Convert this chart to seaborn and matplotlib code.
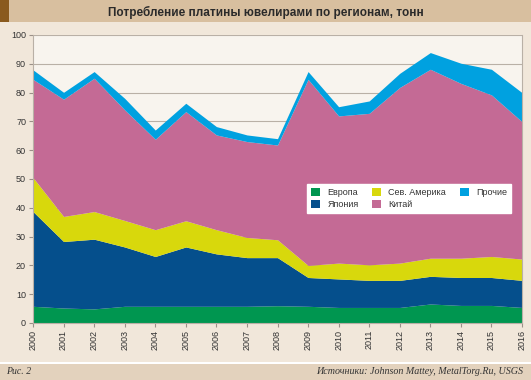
import matplotlib.pyplot as plt
import seaborn as sns
from matplotlib.patches import Rectangle

years = list(range(2000, 2017))

# tonnes per region (layer thickness)
europe = [5.8, 5.2, 4.9, 5.8, 5.8, 5.8, 5.8, 5.8, 6.0, 5.8, 5.4, 5.4, 5.4, 6.6, 6.1, 6.1, 5.4]
japan = [32.9, 23.1, 24.2, 20.6, 17.3, 20.6, 18.2, 16.9, 16.7, 10.0, 9.9, 9.4, 9.4, 9.6, 9.7, 9.7, 9.4]
n_america = [11.8, 8.7, 9.6, 9.2, 9.3, 9.1, 8.4, 7.0, 6.2, 4.2, 5.5, 5.4, 6.0, 6.3, 6.7, 7.3, 7.4]
china = [34.1, 40.7, 46.3, 38.4, 31.4, 37.9, 32.9, 33.3, 32.9, 64.6, 51.1, 52.6, 61.0, 65.6, 60.7, 56.1, 47.7]
others = [3.3, 2.4, 2.3, 4.0, 3.2, 2.9, 2.9, 2.3, 2.2, 2.7, 3.2, 4.3, 4.9, 5.8, 7.0, 8.9, 10.1]

labels = ['Европа', 'Япония', 'Сев. Америка', 'Китай', 'Прочие']
colors = ['#009650', '#054f8c', '#d8d80c', '#c46a95', '#00a1e0']

sns.set_theme(style='white')
plt.rcParams['font.family'] = ['Liberation Sans', 'DejaVu Sans']

fig = plt.figure(figsize=(5.31, 3.80), dpi=100, facecolor='#f1e7da')
ax = fig.add_axes([33 / 531, 57 / 380, 489 / 531, 288 / 380])
ax.set_facecolor('#f8f4ee')

ax.stackplot(years, europe, japan, n_america, china, others,
             labels=labels, colors=colors, linewidth=0)

ax.set_xlim(2000, 2016)
ax.set_ylim(0, 100)
ax.set_yticks(range(0, 101, 10))
ax.set_xticks(years)
ax.set_xticklabels([str(y) for y in years], rotation=90)
ax.yaxis.grid(True, color='#b9b0a6', linewidth=0.8)
ax.set_axisbelow(True)
ax.tick_params(axis='both', labelsize=6.5, colors='#9a9088', labelcolor='#333333',
               length=3, width=0.8, direction='out', pad=2)
ax.tick_params(left=True, bottom=True)
ax.spines['top'].set_visible(False)
for side in ['left', 'right', 'bottom']:
    ax.spines[side].set_color('#b9b0a6')
    ax.spines[side].set_linewidth(0.8)

leg = ax.legend(ncol=3, loc='center', bbox_to_anchor=(0.769, 0.432), fontsize=6.5,
                frameon=True, fancybox=False, handlelength=1.0, handleheight=1.0,
                columnspacing=1.5, handletextpad=0.8, labelspacing=0.25,
                borderpad=0.5)
leg.get_frame().set_facecolor('white')
leg.get_frame().set_edgecolor('white')
leg.get_frame().set_alpha(1)
for t in leg.get_texts():
    t.set_color('#333333')

# title band
fig.patches.append(Rectangle((0, 1 - 22 / 380), 1, 22 / 380, transform=fig.transFigure,
                             facecolor='#d8bf9f', edgecolor='none', zorder=0))
fig.patches.append(Rectangle((0, 1 - 22 / 380), 9 / 531, 22 / 380, transform=fig.transFigure,
                             facecolor='#8a5a1e', edgecolor='none', zorder=1))
fig.text(0.5, 1 - 12 / 380, 'Потребление платины ювелирами по регионам, тонн',
         ha='center', va='center', fontsize=8.5, fontweight='bold', color='#2a2a2a')

# footer band with thin white separator
fig.patches.append(Rectangle((0, 16 / 380), 1, 2 / 380, transform=fig.transFigure,
                             facecolor='white', edgecolor='none', zorder=0))
fig.patches.append(Rectangle((0, 0), 1, 16 / 380, transform=fig.transFigure,
                             facecolor='#e3d2bd', edgecolor='none', zorder=0))
serif = ['Liberation Serif', 'DejaVu Serif']
fig.text(6 / 531, 8 / 380, 'Рис. 2', ha='left', va='center', fontsize=7,
         style='italic', family=serif, color='#333333')
fig.text(1 - 8 / 531, 8 / 380, 'Источники: Johnson Mattey, MetalTorg.Ru, USGS',
         ha='right', va='center', fontsize=7.2, style='italic',
         family=serif, color='#333333')

fig.savefig('out.png', dpi=100, facecolor=fig.get_facecolor())
